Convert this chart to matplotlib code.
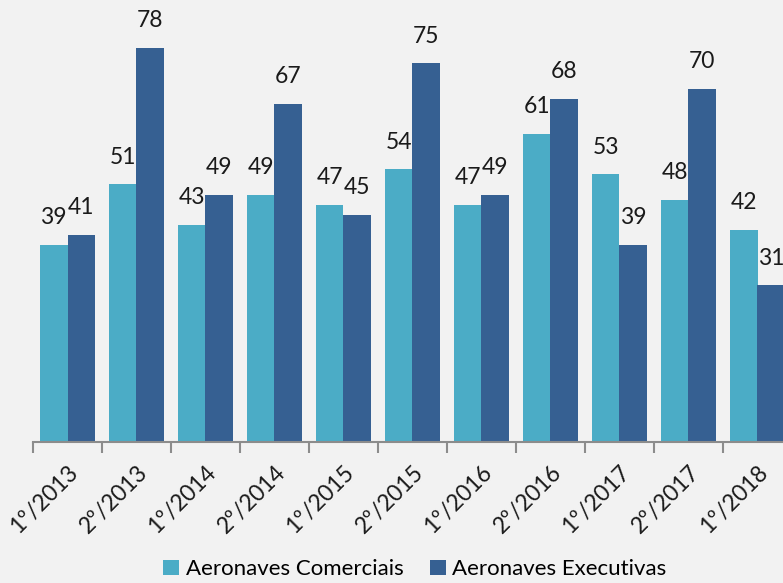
import numpy as np
import matplotlib.pyplot as plt

plt.rcParams['font.family'] = ['Lato', 'DejaVu Sans']

periodos = ['1º/2013', '2º/2013', '1º/2014', '2º/2014', '1º/2015', '2º/2015',
            '1º/2016', '2º/2016', '1º/2017', '2º/2017', '1º/2018']
comerciais = [39, 51, 43, 49, 47, 54, 47, 61, 53, 48, 42]
executivas = [41, 78, 49, 67, 45, 75, 49, 68, 39, 70, 31]

cor_com = '#4BACC6'
cor_exe = '#366092'
fundo = '#F2F2F2'

fig = plt.figure(figsize=(7.83, 5.83), dpi=100, facecolor=fundo)
# eixo passa um pouco da borda direita, como no original
ax = fig.add_axes([33/783, 141/583, 759/783, 442/583], facecolor=fundo)

x = np.arange(len(periodos))
w = 0.4
b1 = ax.bar(x - w/2, comerciais, w, color=cor_com, label='Aeronaves Comerciais')
b2 = ax.bar(x + w/2, executivas, w, color=cor_exe, label='Aeronaves Executivas')

for barras in (b1, b2):
    for b in barras:
        ax.annotate(str(int(b.get_height())), (b.get_x() + b.get_width()/2, b.get_height()),
                    xytext=(0, 12), textcoords='offset points', ha='center', va='bottom',
                    fontsize=16.5, color='#1a1a1a')

ax.set_xlim(-0.5, 10.5)
ax.set_ylim(0, 442/5.05)

for s in ['top', 'right', 'left']:
    ax.spines[s].set_visible(False)
ax.spines['bottom'].set_color('#8c8c8c')
ax.spines['bottom'].set_linewidth(1.5)
ax.set_yticks([])

ax.set_xticks(np.arange(len(periodos) + 1) - 0.5)
ax.set_xticklabels([])
ax.tick_params(axis='x', length=8, width=1.5, color='#8c8c8c')
ax.set_xticks(x, minor=True)
ax.set_xticklabels(periodos, minor=True, rotation=45, ha='right', va='top',
                   rotation_mode='anchor', fontsize=16.5, color='#1a1a1a')
ax.tick_params(axis='x', which='minor', length=0, pad=14)

fig.legend(loc='lower center', ncol=2, frameon=False, fontsize=16,
           handlelength=0.7, handleheight=0.7, handletextpad=0.3, columnspacing=1.2,
           bbox_to_anchor=(0.53, -0.028))

fig.savefig('out.png', dpi=100, facecolor=fundo)
